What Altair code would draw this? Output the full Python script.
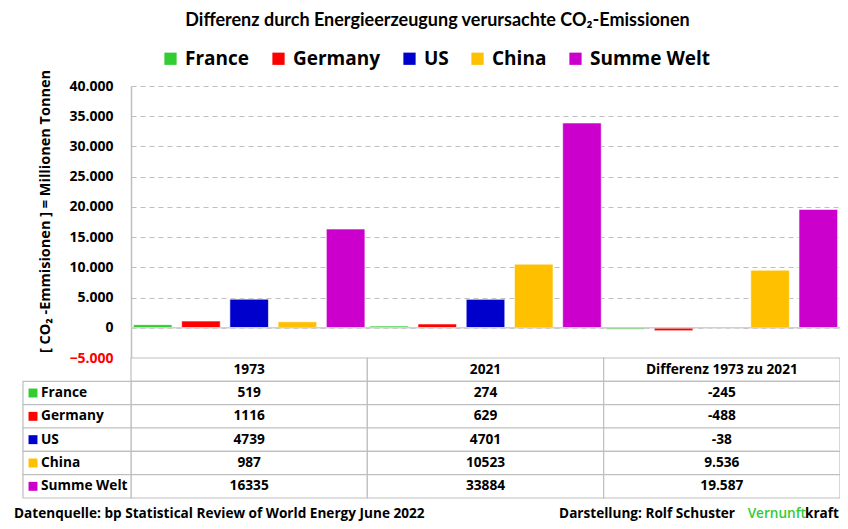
import altair as alt
import pandas as pd

# ---------------- data ----------------
groups = ["1973", "2021", "Differenz 1973 zu 2021"]
countries = ["France", "Germany", "US", "China", "Summe Welt"]
colors = ["#33CC33", "#FF0000", "#0000CC", "#FFC000", "#CC00CC"]
v1973 = [519, 1116, 4739, 987, 16335]
v2021 = [274, 629, 4701, 10523, 33884]
vdiff = [-245, -488, -38, 9536, 19587]
y_ticks = [-5000, 0, 5000, 10000, 15000, 20000, 25000, 30000, 35000, 40000]

title_text = "Differenz durch Energieerzeugung verursachte CO₂-Emissionen"
y_title = "[ CO₂ -Emmisionen ] = Millionen Tonnen"
source_text = "Datenquelle: bp Statistical Review of World Energy June 2022"
author_text = "Darstellung:  Rolf Schuster"
brand_a = "Vernunft"
brand_b = "kraft"

# ---------------- tables ----------------
series = {"1973": v1973, "2021": v2021, "Differenz 1973 zu 2021": vdiff}


def de_fmt(v):
    return f"{v:,}".replace(",", ".")


bar_rows = []
for g in groups:
    for c, v in zip(countries, series[g]):
        bar_rows.append({"group": g, "country": c, "value": v})
bars_df = pd.DataFrame(bar_rows)

rows = ["header"] + countries
cell_rows = []
for g in groups:
    cell_rows.append({"row": "header", "group": g, "label": g})
    for c, v in zip(countries, series[g]):
        lab = de_fmt(v) if g.startswith("Differenz") else str(v)
        cell_rows.append({"row": c, "group": g, "label": lab})
cells_df = pd.DataFrame(cell_rows)
names_df = pd.DataFrame({"row": countries, "country": countries})

# ---------------- layout ----------------
W, H = 709, 414
PLOT_H = 272
TABLE_BOTTOM = 412
FONT = "Open Sans"
GRID = "#bfbfbf"
TFS = 13.7

x_scale = alt.Scale(domain=groups, paddingInner=0, paddingOuter=0)
y_val_scale = alt.Scale(domain=[-5000, 40000], range=[PLOT_H, 0], nice=False, zero=False)
y_row_scale = alt.Scale(type="band", domain=rows, range=[PLOT_H, TABLE_BOTTOM],
                        paddingInner=0, paddingOuter=0)
color_scale = alt.Scale(domain=countries, range=colors)

bars = alt.Chart(bars_df).mark_bar(stroke="white", strokeWidth=0.6).encode(
    x=alt.X("group:N", scale=x_scale, axis=None, sort=groups),
    xOffset=alt.XOffset("country:N", sort=countries,
                        scale=alt.Scale(paddingInner=0.2, paddingOuter=0.05)),
    y=alt.Y("value:Q", scale=y_val_scale,
            axis=alt.Axis(values=y_ticks, title=y_title,
                          labelExpr="replace(format(datum.value, ',d'), ',', '.')",
                          labelColor=alt.expr("datum.value < 0 ? '#FF0000' : '#000000'"),
                          labelFont=FONT, labelFontSize=14, labelFontWeight="bold",
                          labelPadding=18, ticks=False, tickSize=0,
                          domainColor=GRID, domainWidth=1.5,
                          grid=True, gridColor=GRID, gridDash=[5, 4], gridWidth=1,
                          titleFont=FONT, titleFontSize=14.5, titleFontWeight="bold",
                          titleX=-86, titleY=125, titleAngle=-90, titleAlign="center",
                          titleBaseline="middle", titleColor="#000000")),
    y2=alt.Y2(datum=0),
    color=alt.Color("country:N", scale=color_scale, sort=countries,
                    legend=alt.Legend(orient="none", legendX=30, legendY=-37,
                                      direction="horizontal", title=None,
                                      symbolType="square", symbolSize=150,
                                      symbolStrokeWidth=0, labelFont=FONT,
                                      labelFontSize=19, labelFontWeight="bold",
                                      labelColor="#000000", columnPadding=19,
                                      labelOffset=5)),
)

zero_rule = alt.Chart(pd.DataFrame({"z": [0]})).mark_rule(color="#d0d0d0", strokeWidth=1.5).encode(
    y=alt.Y("z:Q", scale=y_val_scale, axis=None),
)

cells = alt.Chart(cells_df).mark_rect(fill="white", stroke=GRID, strokeWidth=1.2).encode(
    x=alt.X("group:N", scale=x_scale, axis=None, sort=groups),
    y=alt.Y("row:N", scale=y_row_scale, axis=None, sort=rows),
)

name_cells = alt.Chart(names_df).mark_rect(fill="white", stroke=GRID, strokeWidth=1.2).encode(
    x=alt.value(-108), x2=alt.value(0),
    y=alt.Y("row:N", scale=y_row_scale, axis=None, sort=rows),
)

cell_text = alt.Chart(cells_df).mark_text(font=FONT, fontSize=TFS, fontWeight="bold",
                                          color="#000000", baseline="middle").encode(
    x=alt.X("group:N", scale=x_scale, axis=None, sort=groups),
    y=alt.Y("row:N", scale=y_row_scale, axis=None, sort=rows),
    text="label:N",
)

name_sq = alt.Chart(names_df).mark_point(shape="square", filled=True, size=80, opacity=1).encode(
    x=alt.value(-98),
    y=alt.Y("row:N", scale=y_row_scale, axis=None, sort=rows),
    color=alt.Color("country:N", scale=color_scale, legend=None),
)

name_text = alt.Chart(names_df).mark_text(font=FONT, fontSize=TFS, fontWeight="bold",
                                          color="#000000", align="left",
                                          baseline="middle").encode(
    x=alt.value(-90),
    y=alt.Y("row:N", scale=y_row_scale, axis=None, sort=rows),
    text="row:N",
)


def footer(txt, x, align, color="#000000", weight="bold"):
    return alt.Chart(pd.DataFrame({"t": [txt]})).mark_text(
        font=FONT, fontSize=13.6, fontWeight=weight, color=color, align=align,
        baseline="middle").encode(text="t:N", x=alt.value(x), y=alt.value(428))


foot1 = footer(source_text, -117, "left")
foot2 = footer(author_text, 604, "right")
foot3 = footer(brand_a, 675, "right", color="#33CC33", weight=600)
foot4 = footer(brand_b, 708, "right")

chart = alt.layer(
    bars, zero_rule, cells, name_cells, cell_text, name_sq, name_text,
    foot1, foot2, foot3, foot4,
).resolve_scale(y="independent").properties(
    width=W, height=H,
    title=alt.TitleParams(title_text, font="Lato", fontSize=18, fontWeight="bold",
                          color="#000000", anchor="middle", dx=-48, offset=19),
    autosize=alt.AutoSizeParams(type="none"),
    padding={"left": 123, "top": 78, "right": 0, "bottom": 21},
).configure_view(stroke=None)

chart.save("out.html", embed_options={"renderer": "svg", "actions": False})
